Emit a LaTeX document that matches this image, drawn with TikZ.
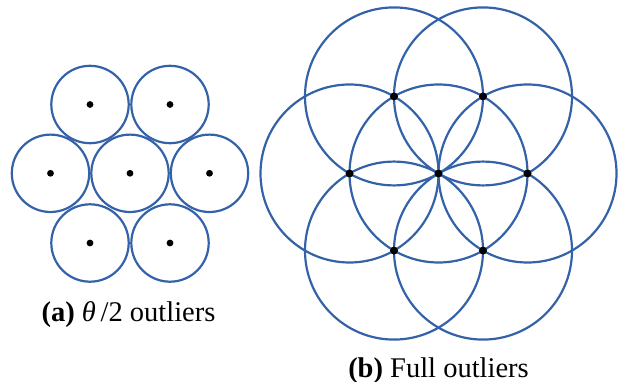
\documentclass[tikz,border=0pt]{standalone}
\usepackage{fontspec}
\setmainfont{Liberation Serif}
\usetikzlibrary{calc}
\definecolor{ringblue}{RGB}{52,98,168}
\begin{document}
\begin{tikzpicture}[x=1pt,y=-1pt,
  ring/.style={draw=ringblue,line width=2.2pt},
  smalldot/.style={fill=black},
  caption/.style={anchor=base,inner sep=0pt,font=\fontsize{28.5}{31}\selectfont}]
\useasboundingbox (0,0) rectangle (618,382);
% (a) theta/2 outliers
\coordinate (a0) at (130,173.3);
\coordinate (a1) at (209.5,173.3);
\coordinate (a2) at (170,104.5);
\coordinate (a3) at (90,104.5);
\coordinate (a4) at (50.5,173.3);
\coordinate (a5) at (90,243);
\coordinate (a6) at (170,243);
\foreach \p in {a0,a1,a2,a3,a4,a5,a6}{
  \draw[ring] (\p) circle[radius=38.7];
  \fill[smalldot] (\p) circle[radius=3.4];
}
% (b) full outliers
\coordinate (b0) at (438.5,173.5);
\foreach \i/\ang in {1/0,2/60,3/120,4/180,5/240,6/300}{
  \coordinate (b\i) at ($(b0)+({89*cos(\ang)},{-89*sin(\ang)})$);
}
\foreach \p in {b0,b1,b2,b3,b4,b5,b6}{
  \draw[ring] (\p) circle[radius=89];
}
\foreach \p in {b0,b1,b2,b3,b4,b5,b6}{
  \fill[smalldot] (\p) circle[radius=4];
}
\node[caption] (capa) at (128.5,321) {\textbf{(a)} \textit{θ}\,/2 outliers};
\node[caption] (capb) at (438.5,377) {\textbf{(b)} Full outliers};
\end{tikzpicture}
\end{document}
